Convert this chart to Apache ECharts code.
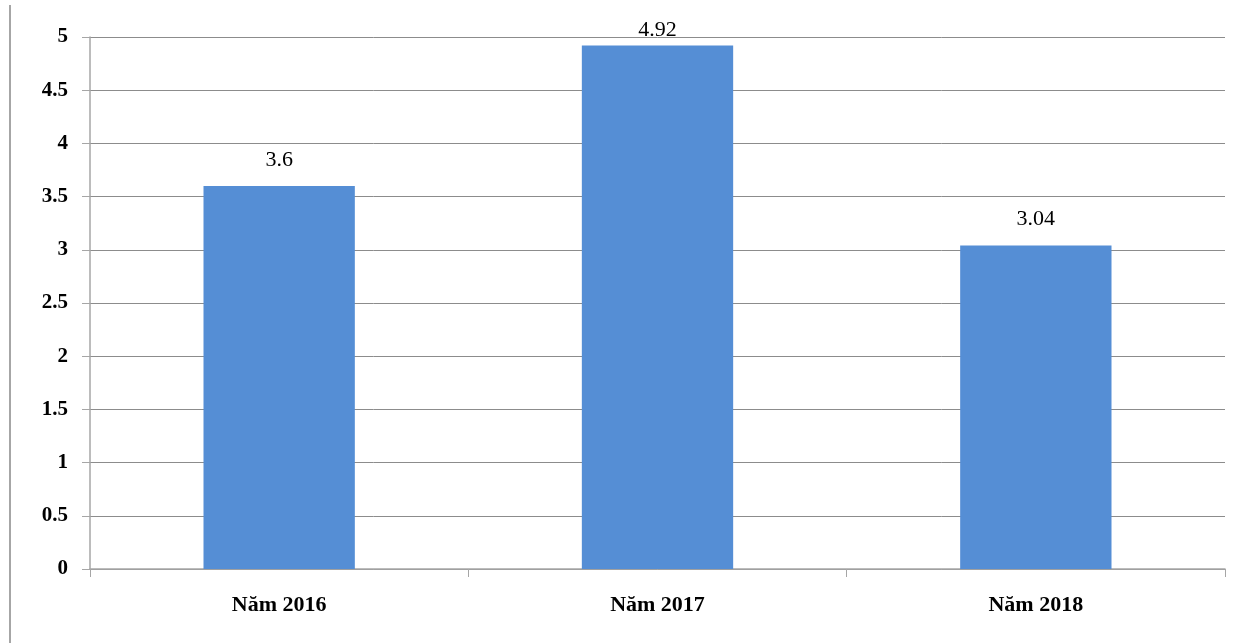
<!DOCTYPE html>
<html>
<head>
<meta charset="utf-8">
<script src="https://cdn.jsdelivr.net/npm/echarts@6/dist/echarts.min.js"></script>
<style>
  html, body { margin: 0; padding: 0; background: #fff; }
  #chart { width: 1248px; height: 643px; }
</style>
</head>
<body>
<div id="chart"></div>
<script>
const categories = ['Năm 2016', 'Năm 2017', 'Năm 2018']
const values = [3.6, 4.92, 3.04]
const yTicks = { min: 0, max: 5, interval: 0.5 }

const serif = '"Liberation Serif", "Times New Roman", serif'
const chart = echarts.init(document.getElementById('chart'))

chart.setOption({
  animation: false,
  grid: { left: 90, right: 23, top: 37, bottom: 74 },
  graphic: [{
    type: 'rect',
    shape: { x: 9, y: 5, width: 2, height: 640 },
    style: { fill: '#a6a6a6' }
  }],
  xAxis: {
    type: 'category',
    data: categories,
    axisLine: { lineStyle: { color: '#a6a6a6', width: 1.5 } },
    axisTick: { show: true, length: 8, alignWithLabel: false, lineStyle: { color: '#a6a6a6' } },
    axisLabel: {
      margin: 25,
      fontFamily: serif,
      fontWeight: 'bold',
      fontSize: 22,
      color: '#000'
    }
  },
  yAxis: {
    type: 'value',
    min: yTicks.min,
    max: yTicks.max,
    interval: yTicks.interval,
    axisLine: { show: true, lineStyle: { color: '#a6a6a6', width: 1.5 } },
    axisTick: { show: true, length: 8, lineStyle: { color: '#a6a6a6' } },
    splitLine: { lineStyle: { color: '#8c8c8c', width: 1 } },
    axisLabel: {
      margin: 22,
      fontFamily: serif,
      fontWeight: 'bold',
      fontSize: 21,
      color: '#000'
    }
  },
  series: [{
    type: 'bar',
    barWidth: '40%',
    itemStyle: { color: '#558ed5' },
    data: values.map((v) => ({
      value: v,
      label: { distance: v > 4.5 ? 4 : 15 }
    })),
    label: {
      show: true,
      position: 'top',
      fontFamily: serif,
      fontSize: 22,
      color: '#000'
    }
  }]
})
</script>
</body>
</html>
